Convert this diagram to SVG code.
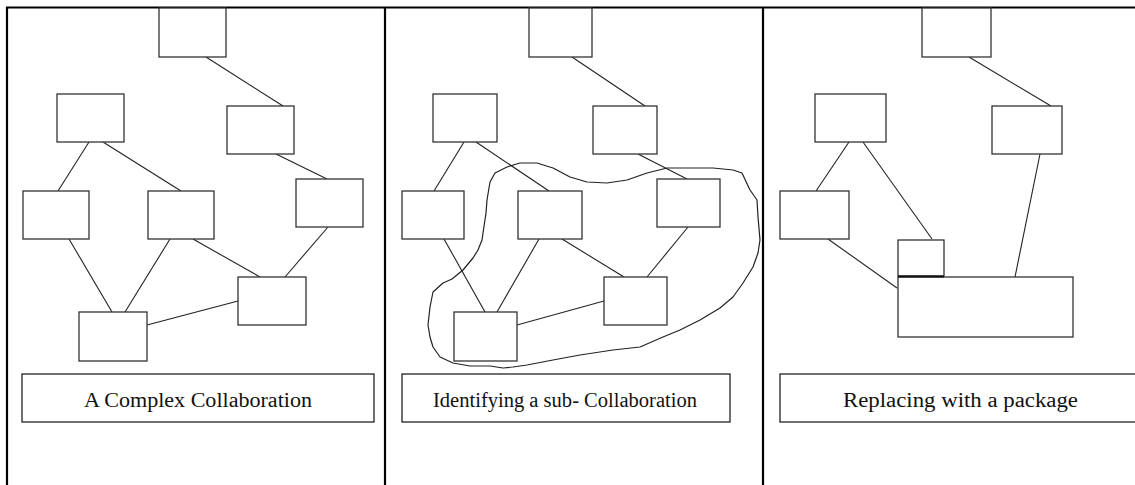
<svg xmlns="http://www.w3.org/2000/svg" width="1135" height="485" viewBox="0 0 1135 485">
  <style>
    .frame { stroke: #000; stroke-width: 2.2; fill: none; }
    .node { fill: #fff; stroke: #333; stroke-width: 1.3; }
    .edge { stroke: #222; stroke-width: 1.1; fill: none; }
    .cap { fill: #fff; stroke: #222; stroke-width: 1.3; }
    .lbl { font-family: "Liberation Serif", "Times New Roman", serif; font-size: 20px; fill: #111; }
    .lasso { stroke: #222; stroke-width: 1.2; fill: none; stroke-linejoin: round; }
  </style>

  <rect width="1135" height="485" fill="#fff"/>

  <!-- table frame -->
  <g id="frame">
    <line class="frame" x1="6" y1="7.5" x2="1135" y2="7.5"/>
    <line class="frame" x1="7" y1="7" x2="7" y2="485"/>
    <line class="frame" x1="385" y1="7" x2="385" y2="485"/>
    <line class="frame" x1="763" y1="7" x2="763" y2="485"/>
  </g>

  <!-- connectors -->
  <g id="connectors">
    <!-- column 1 -->
    <line class="edge" x1="206" y1="57" x2="283" y2="106"/>
    <line class="edge" x1="89" y1="142" x2="58" y2="191"/>
    <line class="edge" x1="103" y1="142" x2="181" y2="191"/>
    <line class="edge" x1="276" y1="154" x2="327" y2="179"/>
    <line class="edge" x1="328" y1="227" x2="285" y2="277"/>
    <line class="edge" x1="69" y1="239" x2="112" y2="312"/>
    <line class="edge" x1="170" y1="239" x2="125" y2="312"/>
    <line class="edge" x1="193" y1="239" x2="260" y2="277"/>
    <line class="edge" x1="147" y1="325" x2="238" y2="301"/>
    <!-- column 2 -->
    <line class="edge" x1="572" y1="57" x2="645" y2="106"/>
    <line class="edge" x1="464" y1="142" x2="434" y2="191"/>
    <line class="edge" x1="476" y1="142" x2="549" y2="191"/>
    <line class="edge" x1="638" y1="154" x2="687" y2="179"/>
    <line class="edge" x1="688" y1="227" x2="647" y2="277"/>
    <line class="edge" x1="444" y1="239" x2="485" y2="312"/>
    <line class="edge" x1="539" y1="239" x2="497" y2="312"/>
    <line class="edge" x1="562" y1="239" x2="624" y2="277"/>
    <line class="edge" x1="517" y1="325" x2="604" y2="301"/>
    <!-- column 3 -->
    <line class="edge" x1="969" y1="57" x2="1051" y2="106"/>
    <line class="edge" x1="849" y1="142" x2="816" y2="191"/>
    <line class="edge" x1="863" y1="142" x2="932" y2="239"/>
    <line class="edge" x1="1040" y1="154" x2="1015" y2="277"/>
    <line class="edge" x1="828" y1="239" x2="897" y2="288"/>
  </g>

  <!-- column 1: a complex collaboration -->
  <g id="c1-top"><rect class="node" x="159" y="8" width="67" height="49"/></g>
  <g id="c1-midleft"><rect class="node" x="57" y="94" width="67" height="48"/></g>
  <g id="c1-midright"><rect class="node" x="227" y="106" width="67" height="48"/></g>
  <g id="c1-row3a"><rect class="node" x="23" y="191" width="66" height="48"/></g>
  <g id="c1-row3b"><rect class="node" x="148" y="191" width="66" height="48"/></g>
  <g id="c1-row3c"><rect class="node" x="296" y="179" width="67" height="48"/></g>
  <g id="c1-row4"><rect class="node" x="238" y="277" width="68" height="48"/></g>
  <g id="c1-bottom"><rect class="node" x="79" y="312" width="68" height="49"/></g>
  <g id="c1-caption">
    <rect class="cap" x="22" y="374" width="352" height="48"/>
    <text class="lbl" x="84" y="407" textLength="228" lengthAdjust="spacingAndGlyphs">A Complex Collaboration</text>
  </g>

  <!-- column 2: the same graph with a sub-collaboration outlined -->
  <g id="c2-top"><rect class="node" x="529" y="8" width="63" height="49"/></g>
  <g id="c2-midleft"><rect class="node" x="433" y="94" width="64" height="48"/></g>
  <g id="c2-midright"><rect class="node" x="593" y="106" width="64" height="48"/></g>
  <g id="c2-row3a"><rect class="node" x="402" y="191" width="62" height="48"/></g>
  <g id="c2-row3b"><rect class="node" x="518" y="191" width="64" height="48"/></g>
  <g id="c2-row3c"><rect class="node" x="657" y="179" width="63" height="48"/></g>
  <g id="c2-row4"><rect class="node" x="604" y="277" width="63" height="48"/></g>
  <g id="c2-bottom"><rect class="node" x="454" y="312" width="63" height="49"/></g>
  <g id="c2-lasso">
    <path class="lasso" d="M490,182 L495,173 L507,167 L520,163 L537,163 L553,168 L570,177 L587,182 L607,183 L627,180 L647,173 L667,168 L713,168 L733,170 L742,173 L750,190 L757,200 L758,217 L760,240 L758,253 L753,267 L743,283 L733,297 L720,308 L700,320 L680,330 L663,337 L640,347 L613,350 L580,355 L553,360 L527,365 L513,367 L503,368 L490,366 L470,366 L453,363 L440,357 L433,347 L430,337 L428,325 L430,307 L433,292 L443,283 L452,279 L463,270 L473,258 L478,250 L482,240 L483,233 L486,213 L487,200 Z"/>
  </g>
  <g id="c2-caption">
    <rect class="cap" x="402" y="374" width="328" height="48"/>
    <text class="lbl" x="433" y="407" textLength="264" lengthAdjust="spacingAndGlyphs">Identifying a sub- Collaboration</text>
  </g>

  <!-- column 3: sub-collaboration replaced by a package -->
  <g id="c3-top"><rect class="node" x="922" y="8" width="69" height="49"/></g>
  <g id="c3-midleft"><rect class="node" x="815" y="94" width="71" height="48"/></g>
  <g id="c3-midright"><rect class="node" x="992" y="106" width="70" height="48"/></g>
  <g id="c3-row3a"><rect class="node" x="780" y="191" width="69" height="48"/></g>
  <g id="c3-package">
    <rect class="node" x="898" y="240" width="46" height="36"/>
    <rect class="node" x="898" y="277" width="175" height="60"/>
    <line x1="898" y1="276.5" x2="944" y2="276.5" stroke="#111" stroke-width="2"/>
  </g>
  <g id="c3-caption">
    <rect class="cap" x="780" y="374" width="360" height="48"/>
    <text class="lbl" x="843" y="407" textLength="235" lengthAdjust="spacingAndGlyphs">Replacing with a package</text>
  </g>
</svg>
